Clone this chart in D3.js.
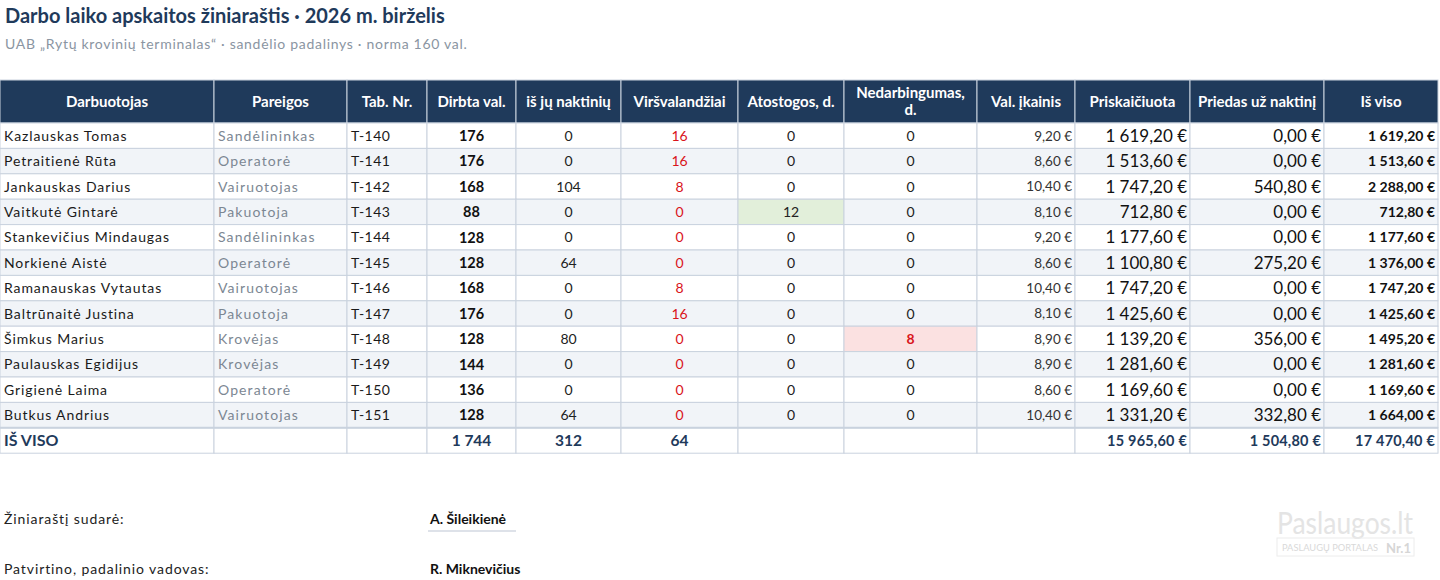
<!DOCTYPE html>
<html lang="lt">
<head>
<meta charset="utf-8">
<script src="https://cdn.jsdelivr.net/npm/d3@7"></script>
<style>
  html, body { margin: 0; padding: 0; background: #fff; }
  svg { display: block; font-family: Lato, "Noto Sans", sans-serif; }
</style>
</head>
<body>
<svg id="sheet" width="1440" height="580"></svg>
<script>
// Data read from the timesheet
const headers = ['Darbuotojas', 'Pareigos', 'Tab. Nr.', 'Dirbta val.', 'iš jų naktinių', 'Viršvalandžiai',
  'Atostogos, d.', 'Nedarbingumas,\nd.', 'Val. įkainis', 'Priskaičiuota', 'Priedas už naktinį', 'Iš viso'];
const names = ['Kazlauskas Tomas', 'Petraitienė Rūta', 'Jankauskas Darius', 'Vaitkutė Gintarė',
  'Stankevičius Mindaugas', 'Norkienė Aistė', 'Ramanauskas Vytautas', 'Baltrūnaitė Justina',
  'Šimkus Marius', 'Paulauskas Egidijus', 'Grigienė Laima', 'Butkus Andrius'];
const roles = ['Sandėlininkas', 'Operatorė', 'Vairuotojas', 'Pakuotoja', 'Sandėlininkas', 'Operatorė',
  'Vairuotojas', 'Pakuotoja', 'Krovėjas', 'Krovėjas', 'Operatorė', 'Vairuotojas'];
const tabNr = ['T-140', 'T-141', 'T-142', 'T-143', 'T-144', 'T-145', 'T-146', 'T-147', 'T-148', 'T-149', 'T-150', 'T-151'];
const workedHours = [176, 176, 168, 88, 128, 128, 168, 176, 128, 144, 136, 128];
const nightHours = [0, 0, 104, 0, 0, 64, 0, 0, 80, 0, 0, 64];
const overtime = [16, 16, 8, 0, 0, 0, 8, 16, 0, 0, 0, 0];
const vacationDays = [0, 0, 0, 12, 0, 0, 0, 0, 0, 0, 0, 0];
const sickDays = [0, 0, 0, 0, 0, 0, 0, 0, 8, 0, 0, 0];
const hourlyRate = [9.20, 8.60, 10.40, 8.10, 9.20, 8.60, 10.40, 8.10, 8.90, 8.90, 8.60, 10.40];
const accrued = [1619.20, 1513.60, 1747.20, 712.80, 1177.60, 1100.80, 1747.20, 1425.60, 1139.20, 1281.60, 1169.60, 1331.20];
const nightBonus = [0, 0, 540.80, 0, 0, 275.20, 0, 0, 356.00, 0, 0, 332.80];
const totalPay = [1619.20, 1513.60, 2288.00, 712.80, 1177.60, 1376.00, 1747.20, 1425.60, 1495.20, 1281.60, 1169.60, 1664.00];

const signLabels = ['Žiniaraštį sudarė:', 'Patvirtino, padalinio vadovas:'];
const signNames = ['A. Šileikienė', 'R. Miknevičius'];

const lt = d3.formatLocale({ decimal: ',', thousands: '\u00a0', grouping: [3], currency: ['', '\u00a0€'] });
const fmtInt = lt.format(',d');
const fmtEur = lt.format('$,.2f');

const svg = d3.select('#sheet');
const NAVY = '#1f3a5b';
const GRID = '#c9d2de';

// title block
svg.append('text').attr('x', 5).attr('y', 23)
  .attr('font-size', 20).attr('font-weight', 700).attr('fill', NAVY)
  .text('Darbo laiko apskaitos žiniaraštis · 2026 m. birželis');
svg.append('text').attr('x', 5).attr('y', 49)
  .attr('font-size', 14).attr('fill', '#8a95a2').attr('letter-spacing', 0.7)
  .text('UAB „Rytų krovinių terminalas“ · sandėlio padalinys · norma 160 val.');

// column layout
const edges = [0, 214, 347, 427, 516, 621, 738, 844, 977, 1075, 1190, 1324, 1438];
const colX = i => edges[i];
const colW = i => edges[i + 1] - edges[i];

const headTop = 80, headH = 43;
const rowIdx = d3.range(names.length + 1);
const y = d3.scaleBand().domain(rowIdx).range([headTop + headH, headTop + headH + 25.4 * rowIdx.length]);

// header
const head = svg.append('g');
headers.forEach((h, i) => {
  head.append('rect').attr('x', colX(i)).attr('y', headTop).attr('width', colW(i)).attr('height', headH)
    .attr('fill', NAVY).attr('stroke', GRID).attr('stroke-width', 1);
  const lines = h.split('\n');
  const t = head.append('text').attr('text-anchor', 'middle').attr('fill', '#fff')
    .attr('font-size', 15).attr('font-weight', 700);
  lines.forEach((l, k) => {
    t.append('tspan').attr('x', colX(i) + colW(i) / 2)
      .attr('y', headTop + headH / 2 + 5 + (k - (lines.length - 1) / 2) * 17)
      .text(l);
  });
});

// body rows
const rows = names.map((n, i) => ({
  i, name: n, role: roles[i], tab: tabNr[i], worked: workedHours[i], night: nightHours[i],
  over: overtime[i], vac: vacationDays[i], sick: sickDays[i], rate: hourlyRate[i],
  accrued: accrued[i], bonus: nightBonus[i], total: totalPay[i]
}));

const cellSpec = [
  { key: 'name', align: 'start', size: 14, color: '#1a1a1a', ls: 0.9 },
  { key: 'role', align: 'start', size: 14, color: '#7c8793', ls: 1.1 },
  { key: 'tab', align: 'start', size: 14, color: '#1a1a1a', ls: 0.5 },
  { key: 'worked', align: 'middle', size: 14.5, color: '#111', weight: 700 },
  { key: 'night', align: 'middle', size: 14, color: '#222' },
  { key: 'over', align: 'middle', size: 14, color: '#d9141b' },
  { key: 'vac', align: 'middle', size: 14, color: '#222' },
  { key: 'sick', align: 'middle', size: 14, color: '#222' },
  { key: 'rate', align: 'end', size: 13.5, color: '#333', fmt: fmtEur },
  { key: 'accrued', align: 'end', size: 17, color: '#111', fmt: fmtEur },
  { key: 'bonus', align: 'end', size: 17, color: '#111', fmt: fmtEur },
  { key: 'total', align: 'end', size: 14, color: '#111', weight: 700, fmt: fmtEur }
];

const body = svg.append('g');
const rowG = body.selectAll('g.row').data(rows).join('g').attr('class', 'row');

rowG.each(function (r) {
  const g = d3.select(this);
  const top = y(r.i), h = y.bandwidth();
  cellSpec.forEach((c, ci) => {
    let fill = r.i % 2 ? '#f1f4f8' : '#ffffff';
    let color = c.color, weight = c.weight || 400;
    if (c.key === 'vac' && r.vac > 0) fill = '#e2efda';
    if (c.key === 'sick' && r.sick > 0) { fill = '#fbe1e1'; color = '#d9141b'; weight = 700; }
    g.append('rect').attr('x', colX(ci)).attr('y', top).attr('width', colW(ci)).attr('height', h)
      .attr('fill', fill).attr('stroke', GRID).attr('stroke-width', 1);
    const val = r[c.key];
    const tx = c.align === 'start' ? colX(ci) + 4 : c.align === 'middle' ? colX(ci) + colW(ci) / 2 : colX(ci + 1) - 3;
    g.append('text').attr('x', tx).attr('y', top + h / 2 + c.size * 0.36)
      .attr('text-anchor', c.align).attr('font-size', c.size).attr('font-weight', weight)
      .attr('fill', color).attr('letter-spacing', c.ls || 0)
      .text(c.fmt ? c.fmt(val) : val);
  });
});

// totals row
const tTop = y(names.length), tH = y.bandwidth();
const totals = {
  3: fmtInt(d3.sum(workedHours)),
  4: fmtInt(d3.sum(nightHours)),
  5: fmtInt(d3.sum(overtime)),
  9: fmtEur(d3.sum(accrued)),
  10: fmtEur(d3.sum(nightBonus)),
  11: fmtEur(d3.sum(totalPay))
};
const tot = svg.append('g');
headers.forEach((h, i) => {
  tot.append('rect').attr('x', colX(i)).attr('y', tTop).attr('width', colW(i)).attr('height', tH)
    .attr('fill', '#fff').attr('stroke', GRID).attr('stroke-width', 1);
  if (totals[i] === undefined) return;
  const right = i >= 9;
  tot.append('text')
    .attr('x', right ? colX(i + 1) - 3 : colX(i) + colW(i) / 2)
    .attr('y', tTop + tH / 2 + 5.5)
    .attr('text-anchor', right ? 'end' : 'middle')
    .attr('font-size', right ? 14.5 : 15.5).attr('font-weight', 700).attr('fill', NAVY)
    .attr('letter-spacing', right ? 0.2 : 0)
    .text(totals[i]);
});
tot.append('text').attr('x', 4).attr('y', tTop + tH / 2 + 5.5)
  .attr('font-size', 16).attr('font-weight', 700).attr('fill', NAVY).text('IŠ VISO');
tot.append('line').attr('x1', 0).attr('x2', 1438).attr('y1', tTop).attr('y2', tTop)
  .attr('stroke', GRID).attr('stroke-width', 2);

// signatures
const signY = [519, 569];
signLabels.forEach((s, i) => {
  svg.append('text').attr('x', 4).attr('y', signY[i] + 5)
    .attr('font-size', 14).attr('fill', '#222').attr('letter-spacing', 0.9).text(s);
  svg.append('text').attr('x', 430).attr('y', signY[i] + 5)
    .attr('font-size', 14).attr('font-weight', 700).attr('fill', '#111').text(signNames[i]);
  svg.append('line').attr('x1', 428).attr('x2', 516).attr('y1', signY[i] + 12).attr('y2', signY[i] + 12)
    .attr('stroke', '#d3d9e2').attr('stroke-width', 1.5);
});

// faint watermark
const wm = svg.append('g');
wm.append('text').attr('x', 1277).attr('y', 534).attr('font-size', 31)
  .attr('textLength', 136).attr('lengthAdjust', 'spacingAndGlyphs')
  .attr('fill', '#e4e4e4').text('Paslaugos.lt');
wm.append('rect').attr('x', 1277).attr('y', 538).attr('width', 137).attr('height', 18)
  .attr('fill', 'none').attr('stroke', '#ececec');
wm.append('text').attr('x', 1282).attr('y', 551).attr('font-size', 8.5)
  .attr('textLength', 96).attr('lengthAdjust', 'spacingAndGlyphs')
  .attr('fill', '#d9d9d9').text('PASLAUGŲ PORTALAS');
wm.append('text').attr('x', 1411).attr('y', 553).attr('text-anchor', 'end').attr('font-size', 13)
  .attr('font-weight', 700).attr('fill', '#d6d6d6').text('Nr.1');
</script>
</body>
</html>
